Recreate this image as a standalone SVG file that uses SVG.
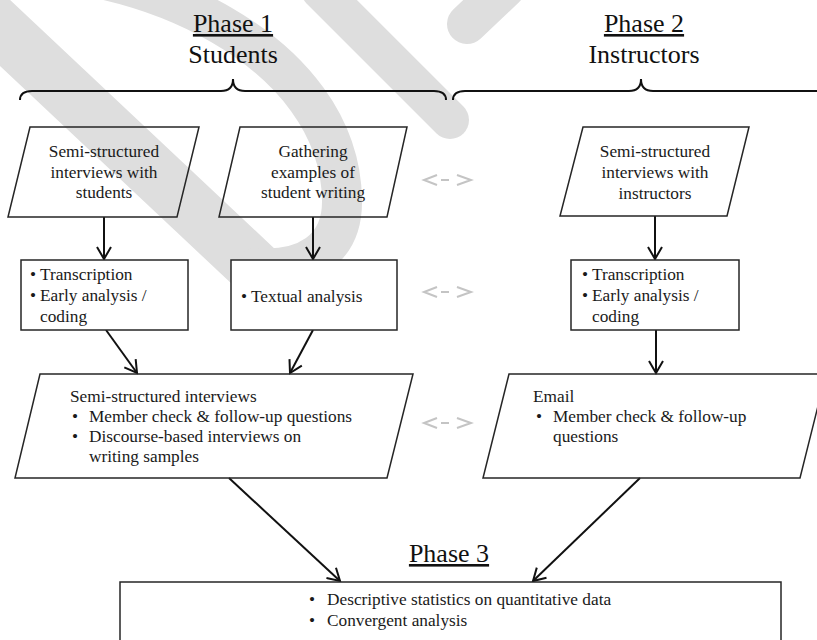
<svg xmlns="http://www.w3.org/2000/svg" width="817" height="640" viewBox="0 0 817 640">
<defs>
<style>
.wm{fill:none;stroke:#dedede;stroke-linecap:round}
.box{fill:#fff;stroke:#262626;stroke-width:1.5}
.para{fill:none;stroke:#262626;stroke-width:1.5}
.t{font-family:"Liberation Serif","Times New Roman",serif;font-size:17.3px;fill:#1a1a1a}
.c{text-anchor:middle}
.h{font-family:"Liberation Serif","Times New Roman",serif;font-size:26px;fill:#111;text-anchor:middle}
.u{text-decoration:underline}
.arr{fill:none;stroke:#111;stroke-width:2;marker-end:url(#ah)}
.brace{fill:none;stroke:#111;stroke-width:2}
.rel{fill:none;stroke:#c4c4c4;stroke-width:2}
</style>
<marker id="ah" viewBox="-13 -8 15 16" refX="0" refY="0" markerWidth="15" markerHeight="16" markerUnits="userSpaceOnUse" orient="auto">
<path d="M-12,-7 L0,0 L-12,7" fill="none" stroke="#111" stroke-width="2"/>
</marker>
</defs>
<rect width="817" height="640" fill="#fff"/>
<g id="watermark">
<line class="wm" x1="-30" y1="0" x2="255" y2="268" stroke-width="55"/>
<path class="wm" d="M-10,-30 C140,-40 340,50 342,200 C343,250 305,272 255,268" stroke-width="40"/>
<line class="wm" x1="320" y1="-10" x2="450" y2="120" stroke-width="38"/>
<line class="wm" x1="467" y1="24" x2="505" y2="-12" stroke-width="40"/>
</g>
<g id="headings">
<text class="h u" x="233" y="32">Phase 1</text>
<text class="h" x="233" y="63">Students</text>
<text class="h u" x="644" y="32">Phase 2</text>
<text class="h" x="644" y="63">Instructors</text>
<text class="h u" x="449" y="562">Phase 3</text>
<path class="brace" d="M20,100 Q20,91 32,91 L221,91 Q233,91 233,79 Q233,91 245,91 L434,91 Q446,91 446,100"/>
<path class="brace" d="M453,100 Q453,91 465,91 L629,91 Q641,91 641,79 Q641,91 653,91 L830,91"/>
</g>
<g id="connectors">
<line class="arr" x1="104" y1="217" x2="104" y2="259"/>
<line class="arr" x1="313" y1="217" x2="313" y2="259"/>
<line class="arr" x1="655" y1="216" x2="655" y2="259"/>
<line class="arr" x1="106" y1="330" x2="137" y2="373"/>
<line class="arr" x1="313" y1="330" x2="290" y2="373"/>
<line class="arr" x1="656" y1="330" x2="656" y2="373"/>
<line class="arr" x1="229" y1="478" x2="340" y2="581"/>
<line class="arr" x1="640" y1="478" x2="533" y2="581"/>
<path class="rel" d="M437,175 L424,180 L437,185 M441,180 L449,180 M457,175 L471,180 L457,185"/>
<path class="rel" d="M437,287 L424,292 L437,297 M441,292 L449,292 M457,287 L471,292 L457,297"/>
<path class="rel" d="M437,418 L424,423 L437,428 M441,423 L449,423 M457,418 L471,423 L457,428"/>
</g>
<g id="node-interviews-students">
<polygon class="para" points="30,127 199,127 177,217 8,217"/>
<text class="t c" x="104" y="157">Semi-structured</text>
<text class="t c" x="104" y="178">interviews with</text>
<text class="t c" x="104" y="198">students</text>
</g>
<g id="node-gathering">
<polygon class="para" points="240,127 407,127 387,217 219,217"/>
<text class="t c" x="313" y="157">Gathering</text>
<text class="t c" x="313" y="178">examples of</text>
<text class="t c" x="313" y="198">student writing</text>
</g>
<g id="node-interviews-instructors">
<polygon class="para" points="583,127 749,127 727,216 560,216"/>
<text class="t c" x="655" y="157">Semi-structured</text>
<text class="t c" x="655" y="178">interviews with</text>
<text class="t c" x="655" y="199">instructors</text>
</g>
<g id="node-transcription-students">
<rect class="box" x="21" y="260" width="167" height="70"/>
<text class="t" x="30" y="280">•</text><text class="t" x="40" y="280">Transcription</text>
<text class="t" x="30" y="301">•</text><text class="t" x="40" y="301">Early analysis /</text>
<text class="t" x="40" y="322">coding</text>
</g>
<g id="node-textual">
<rect class="box" x="231" y="260" width="166" height="70"/>
<text class="t" x="241" y="302">•</text><text class="t" x="251" y="302">Textual analysis</text>
</g>
<g id="node-transcription-instructors">
<rect class="box" x="571" y="260" width="168" height="70"/>
<text class="t" x="582" y="280">•</text><text class="t" x="592" y="280">Transcription</text>
<text class="t" x="582" y="301">•</text><text class="t" x="592" y="301">Early analysis /</text>
<text class="t" x="592" y="322">coding</text>
</g>
<g id="node-followup-students">
<polygon class="para" points="40,374 413,374 387,478 15,478"/>
<text class="t" x="70" y="402">Semi-structured interviews</text>
<text class="t" x="72" y="422">•</text><text class="t" x="89" y="422">Member check &amp; follow-up questions</text>
<text class="t" x="72" y="442">•</text><text class="t" x="89" y="442">Discourse-based interviews on</text>
<text class="t" x="89" y="462">writing samples</text>
</g>
<g id="node-email">
<polygon class="para" points="509,374 826,374 800,478 483,478"/>
<text class="t" x="533" y="402">Email</text>
<text class="t" x="536" y="422">•</text><text class="t" x="553" y="422">Member check &amp; follow-up</text>
<text class="t" x="553" y="442">questions</text>
</g>
<g id="node-phase3">
<rect class="box" x="120" y="582" width="661" height="80"/>
<text class="t" x="309" y="605">•</text><text class="t" x="327" y="605">Descriptive statistics on quantitative data</text>
<text class="t" x="309" y="626">•</text><text class="t" x="327" y="626">Convergent analysis</text>
</g>
</svg>
